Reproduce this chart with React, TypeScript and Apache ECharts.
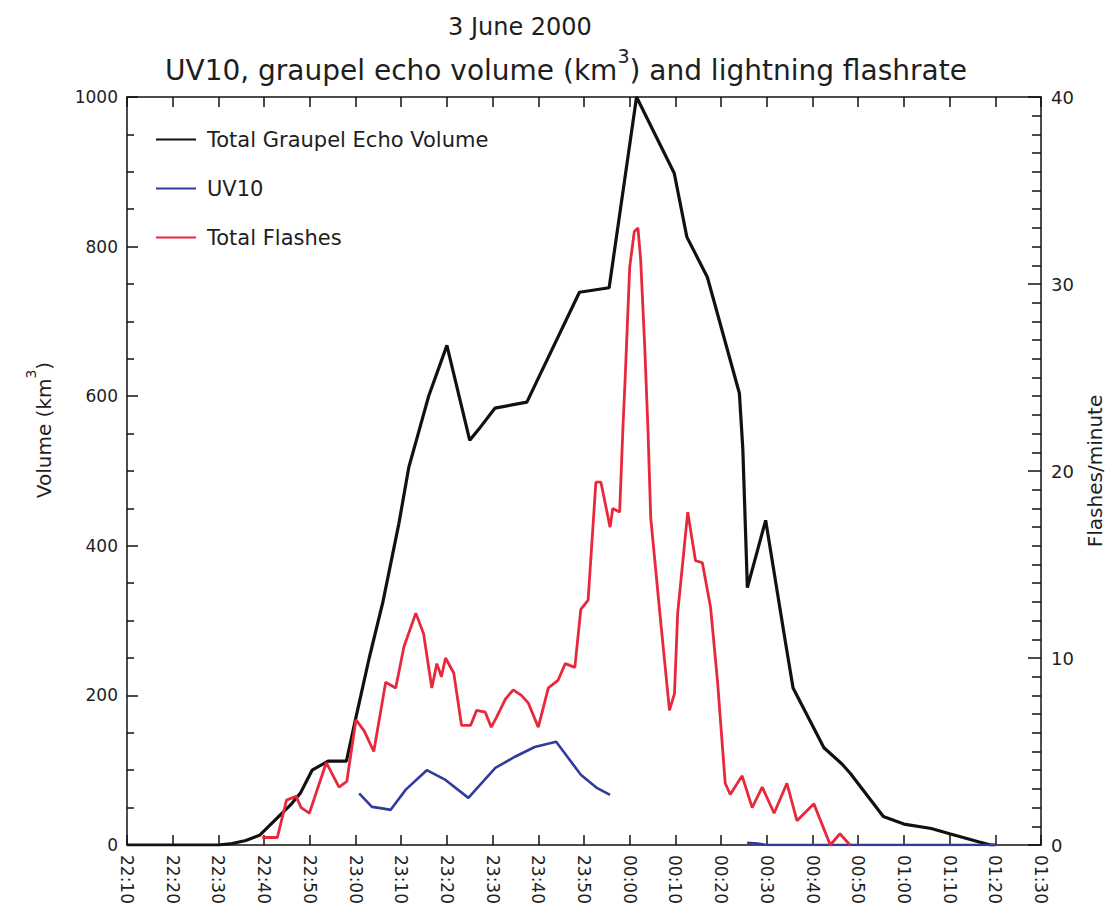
import React, { useEffect, useRef } from "react";
import * as echarts from "echarts";

// ---- Data (times are clock times of 3/4 June 2000) ----
const VOLUME_TIMES = [
  "22:10:00", "22:30:00", "22:33:00", "22:36:00", "22:39:00", "22:43:00", "22:46:00", "22:48:00",
  "22:50:30", "22:54:00", "22:58:00", "23:00:00", "23:03:00", "23:06:00", "23:09:30", "23:11:40",
  "23:13:30", "23:16:00", "23:20:00", "23:25:00", "23:27:00", "23:30:30", "23:37:30", "23:49:00",
  "23:55:30", "00:01:30", "00:09:45", "00:12:30", "00:17:00", "00:24:00", "00:24:45", "00:25:45",
  "00:29:45", "00:34:00", "00:35:45", "00:42:30", "00:46:30", "00:48:15", "00:55:30", "01:00:00",
  "01:06:00", "01:10:00", "01:16:30", "01:19:00", "01:20:00",
];
const VOLUME_KM3 = [
  0, 0, 2, 6, 13, 37, 55, 70,
  100, 112, 112, 168, 250, 325, 430, 505,
  545, 600, 668, 541, 556, 584, 592, 739,
  745, 1000, 898, 813, 759, 604, 530, 344,
  434, 274, 210, 130, 108, 96, 38, 28,
  22, 15, 4, 0, 0,
];

const UV10_TIMES = [
  "23:00:48", "23:03:36", "23:05:48", "23:07:42", "23:11:00", "23:15:36", "23:19:42", "23:24:42",
  "23:30:36", "23:34:54", "23:39:12", "23:43:54", "23:49:18", "23:52:54", "23:55:42", "00:10:00",
  "00:25:42", "00:28:00", "00:30:00", "01:20:24",
];
const UV10_KM3: (number | null)[] = [
  69, 51, 49, 47, 74, 100, 87, 63,
  103, 118, 131, 138, 94, 76, 67, null,
  3, 2, 0, 0,
];

const FLASH_TIMES = [
  "22:39:36", "22:42:54", "22:44:54", "22:47:00", "22:48:06", "22:49:54", "22:53:36", "22:56:24",
  "22:58:06", "23:00:06", "23:01:54", "23:04:00", "23:06:36", "23:08:48", "23:10:36", "23:13:12",
  "23:14:54", "23:16:42", "23:17:48", "23:18:48", "23:19:42", "23:21:30", "23:23:12", "23:25:12",
  "23:26:30", "23:28:24", "23:29:42", "23:30:48", "23:32:48", "23:34:30", "23:36:18", "23:37:48",
  "23:40:00", "23:42:12", "23:44:18", "23:45:54", "23:48:00", "23:49:18", "23:50:54", "23:52:36",
  "23:53:42", "23:55:42", "23:56:18", "23:57:48", "23:58:30", "23:59:00", "00:00:00", "00:01:00",
  "00:01:48", "00:02:24", "00:03:18", "00:04:00", "00:04:36", "00:06:36", "00:08:42", "00:09:48",
  "00:10:30", "00:12:42", "00:14:24", "00:15:54", "00:17:42", "00:19:12", "00:20:54", "00:22:00",
  "00:24:36", "00:26:48", "00:29:00", "00:31:36", "00:34:24", "00:36:36", "00:40:18", "00:43:54",
  "00:46:00", "00:48:12",
];
const FLASH_RATE = [
  0.4, 0.4, 2.4, 2.6, 2.0, 1.7, 4.4, 3.1,
  3.4, 6.7, 6.1, 5.0, 8.7, 8.4, 10.6, 12.4,
  11.3, 8.4, 9.7, 9.0, 10.0, 9.2, 6.4, 6.4,
  7.2, 7.1, 6.3, 6.8, 7.8, 8.3, 8.0, 7.6,
  6.3, 8.4, 8.8, 9.7, 9.5, 12.6, 13.1, 19.4,
  19.4, 17.0, 18.0, 17.8, 22.2, 24.9, 30.9, 32.8,
  33.0, 31.3, 26.6, 22.2, 17.5, 12.4, 7.2, 8.1,
  12.4, 17.8, 15.2, 15.1, 12.7, 8.8, 3.3, 2.7,
  3.7, 2.0, 3.1, 1.7, 3.3, 1.3, 2.2, 0,
  0.6, 0,
];

const AXIS_START = "22:10";
const AXIS_END = "01:30";
const TIME_STEP_MIN = 10;
const VOLUME_MAX = 1000;
const VOLUME_STEP = 200;
const FLASH_MAX = 40;
const FLASH_STEP = 10;

const SERIES_NAMES = ["Total Graupel Echo Volume", "UV10", "Total Flashes"];

// ---- helpers ----
function clockToMinutes(s: string): number {
  const p = s.split(":").map(Number);
  let t = p[0] * 60 + p[1] + (p[2] || 0) / 60;
  if (p[0] < 12) t += 1440;
  return t;
}
const START_MIN = clockToMinutes(AXIS_START);
const rel = (s: string) => clockToMinutes(s) - START_MIN;
function fmtClock(v: number): string {
  const total = Math.round(START_MIN + v);
  const h = Math.floor(total / 60) % 24;
  const m = total % 60;
  return String(h).padStart(2, "0") + ":" + String(m).padStart(2, "0");
}
function pairs(times: string[], vals: (number | null)[]) {
  return times.map((t, i) => [rel(t), vals[i] === null ? "-" : vals[i]]);
}

const FONT = "DejaVu Sans";
const TXT = "#1e1e1e";

export default function App() {
  const ref = useRef<HTMLDivElement>(null);
  useEffect(() => {
    if (!ref.current) return;
    const chart = echarts.init(ref.current, undefined, { renderer: "svg" });
    const axisColor = "#111";
    const xBase = {
      type: "value",
      min: 0,
      max: rel(AXIS_END),
      interval: TIME_STEP_MIN,
      splitLine: { show: false },
      axisLine: { show: true, onZero: false, lineStyle: { color: axisColor, width: 1.5 } },
      axisTick: { show: true, inside: true, length: 10, lineStyle: { color: axisColor, width: 1.5 } },
    };
    chart.setOption({
      animation: false,
      backgroundColor: "#ffffff",
      textStyle: { fontFamily: FONT },
      title: [
        {
          text: "3 June 2000",
          left: 448,
          top: 15,
          padding: 0,
          textStyle: { fontFamily: FONT, fontSize: 24, fontWeight: "normal", color: TXT },
        },
        {
          text: "{a|UV10, graupel echo volume (km}{s|3}{a|) and lightning flashrate}",
          left: 165,
          top: 46,
          padding: 0,
          textStyle: {
            fontFamily: FONT,
            fontWeight: "normal",
            color: TXT,
            rich: {
              a: { fontFamily: FONT, fontSize: 28, color: TXT, lineHeight: 38, verticalAlign: "bottom" },
              s: { fontFamily: FONT, fontSize: 19, color: TXT, lineHeight: 26, verticalAlign: "top" },
            },
          },
        },
      ],
      legend: {
        orient: "vertical",
        left: 150,
        top: 124,
        itemWidth: 40,
        itemHeight: 14,
        itemGap: 28,
        data: SERIES_NAMES,
        itemStyle: { opacity: 0 },
        textStyle: { fontFamily: FONT, fontSize: 21, color: TXT, padding: [0, 0, 0, 6] },
      },
      grid: { left: 127, right: 68, top: 97, bottom: 71, containLabel: false },
      xAxis: [
        {
          ...xBase,
          position: "bottom",
          axisLabel: {
            rotate: -90,
            margin: 10,
            fontFamily: FONT,
            fontSize: 17,
            color: TXT,
            formatter: (v: number) => fmtClock(v),
          },
        },
        { ...xBase, position: "top", axisLabel: { show: false } },
      ],
      yAxis: [
        {
          type: "value",
          position: "left",
          min: 0,
          max: VOLUME_MAX,
          interval: VOLUME_STEP,
          name: "{a|Volume (km}{s|3}{a|)}",
          nameLocation: "middle",
          nameGap: 73,
          nameRotate: 90,
          nameTextStyle: {
            padding: [0, 0, 0, 82],
            rich: {
              a: { fontFamily: FONT, fontSize: 20, color: TXT, lineHeight: 30, verticalAlign: "bottom" },
              s: { fontFamily: FONT, fontSize: 14, color: TXT, lineHeight: 18, verticalAlign: "top" },
            },
          },
          splitLine: { show: false },
          axisLine: { show: true, onZero: false, lineStyle: { color: axisColor, width: 1.5 } },
          axisTick: { show: true, inside: true, length: 11, lineStyle: { color: axisColor, width: 1.5 } },
          minorTick: { show: true, splitNumber: 4, length: 7, lineStyle: { color: axisColor, width: 1.5 } },
          axisLabel: {
            margin: 9,
            fontFamily: FONT,
            fontSize: 17,
            color: TXT,
            formatter: (v: number) => String(v),
          },
        },
        {
          type: "value",
          position: "right",
          min: 0,
          max: FLASH_MAX,
          interval: FLASH_STEP,
          name: "Flashes/minute",
          nameLocation: "middle",
          nameGap: 44,
          nameRotate: 90,
          nameTextStyle: { fontFamily: FONT, fontSize: 20, color: TXT },
          splitLine: { show: false },
          axisLine: { show: true, onZero: false, lineStyle: { color: axisColor, width: 1.5 } },
          axisTick: { show: true, inside: true, length: 13, lineStyle: { color: axisColor, width: 1.5 } },
          minorTick: { show: true, splitNumber: 10, length: 9, lineStyle: { color: axisColor, width: 1.5 } },
          axisLabel: { margin: 10, fontFamily: FONT, fontSize: 18, color: TXT },
        },
      ],
      series: [
        {
          name: SERIES_NAMES[0],
          type: "line",
          xAxisIndex: 0,
          yAxisIndex: 0,
          symbol: "none",
          data: pairs(VOLUME_TIMES, VOLUME_KM3),
          lineStyle: { color: "#111111", width: 3.2 },
          itemStyle: { color: "#111111" },
          z: 3,
        },
        {
          name: SERIES_NAMES[1],
          type: "line",
          xAxisIndex: 0,
          yAxisIndex: 0,
          symbol: "none",
          connectNulls: false,
          data: pairs(UV10_TIMES, UV10_KM3),
          lineStyle: { color: "#2f3c9e", width: 2.6 },
          itemStyle: { color: "#2f3c9e" },
          z: 4,
        },
        {
          name: SERIES_NAMES[2],
          type: "line",
          xAxisIndex: 0,
          yAxisIndex: 1,
          symbol: "none",
          data: pairs(FLASH_TIMES, FLASH_RATE),
          lineStyle: { color: "#e8283c", width: 2.8 },
          itemStyle: { color: "#e8283c" },
          z: 5,
        },
      ],
    });
    return () => chart.dispose();
  }, []);
  return (
    <div
      ref={ref}
      style={{ position: "fixed", left: 0, top: 0, width: 1113, height: 916, background: "#fff" }}
    />
  );
}
